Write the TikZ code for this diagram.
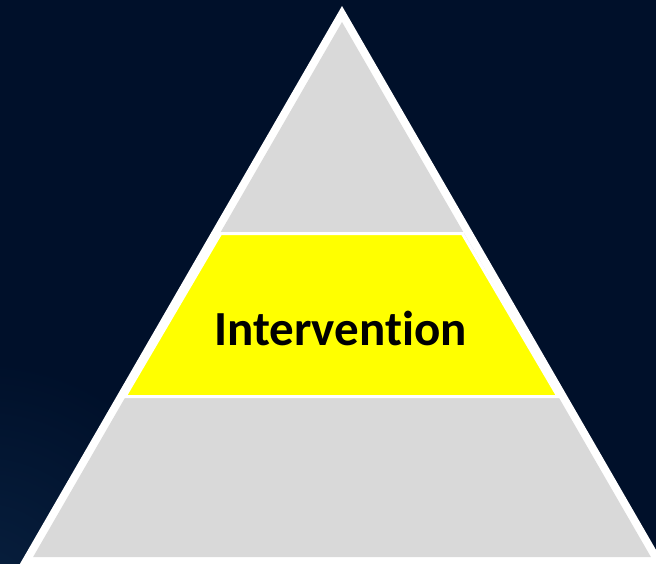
\documentclass[tikz,border=0pt]{standalone}
\usepackage{fontspec}
\setmainfont{Carlito}[Ligatures={NoCommon}]
\begin{document}
\begin{tikzpicture}[x=1pt,y=-1pt]
\definecolor{bg}{HTML}{00102A}
\definecolor{glow}{HTML}{08203F}
\definecolor{band}{HTML}{D9D9D9}
\definecolor{hi}{HTML}{FFFF00}
\tikzset{label/.style={font=\fontsize{49}{59}\selectfont\bfseries, text=black, inner sep=0pt, anchor=base}}
\useasboundingbox (0,0) rectangle (656,563);
\clip (0,0) rectangle (656,563);
\fill[bg] (0,0) rectangle (656,563);
\begin{scope}
\clip (0,0) rectangle (656,563);
\shade[inner color=glow, outer color=bg] (-20,600) circle (240);
\end{scope}
% outer white border
\fill[white] (342,6) -- (6.0,588) -- (678.0,588) -- cycle;
% gray body
\fill[band] (342,22) -- (33.1,557) -- (650.9,557) -- cycle;
% separating white lines
\draw[white, line width=3pt] (219.9,233.5) -- (464.1,233.5);
\draw[white, line width=3pt] (125.8,396.5) -- (558.2,396.5);
% yellow band
\filldraw[fill=hi, draw=white, line width=3pt, line join=miter]
  (220.7,233.5) -- (462.3,233.5) -- (558.0,396.5) -- (125.0,396.5) -- cycle;
\node[label] (lbl) at (340.5,345) {Intervention};
\end{tikzpicture}
\end{document}
